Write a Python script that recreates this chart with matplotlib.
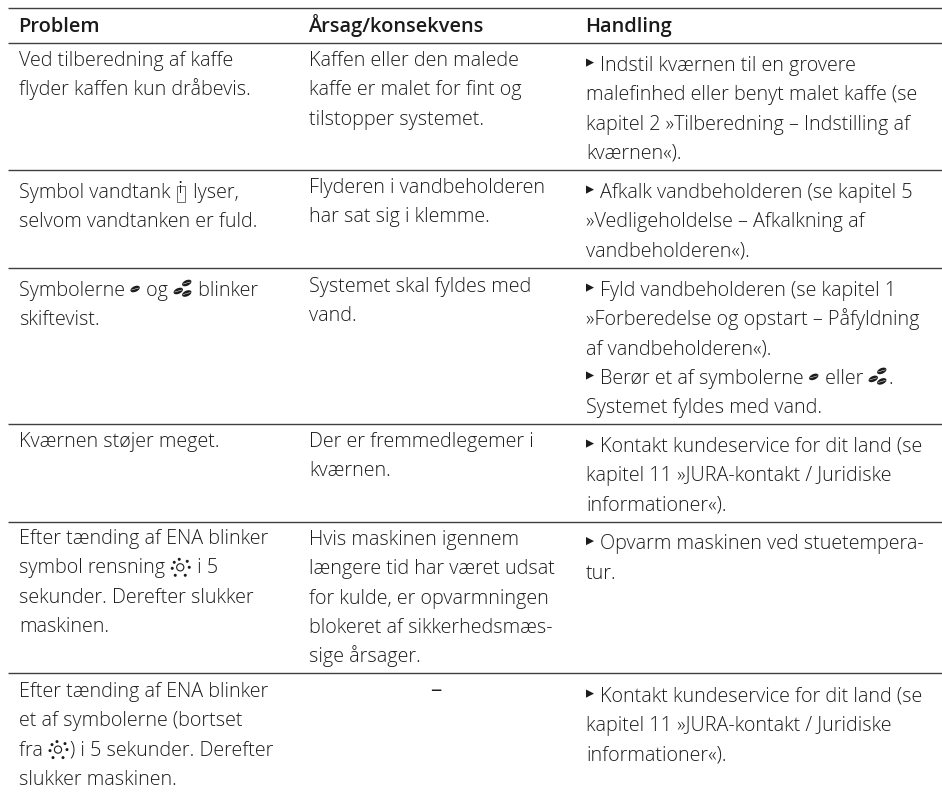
"""Fejlfinding table drawn on a full-figure pixel axes."""
import matplotlib
matplotlib.use("Agg")
import matplotlib.pyplot as plt
from matplotlib.patches import Ellipse, Circle, Rectangle, Polygon

TEXT_COLOR = "#1c1c1c"
LINE_COLOR = "#3f3f3f"
FONT = ["Open Sans", "DejaVu Sans"]

headers = ["Problem", "Årsag/konsekvens", "Handling"]
col_x = [19, 309, 586]
rule_y = [8, 43, 170, 267.5, 424, 521.5, 673]

# [bean], [beans], [tank], [clean] and [arrow] mark inline symbols
col1_lines = [
    ["Ved tilberedning af kaffe", "flyder kaffen kun dråbevis."],
    ["Symbol vandtank [tank] lyser,", "selvom vandtanken er fuld."],
    ["Symbolerne [bean] og [beans] blinker", "skiftevist."],
    ["Kværnen støjer meget."],
    ["Efter tænding af ENA blinker", "symbol rensning [clean] i 5",
     "sekunder. Derefter slukker", "maskinen."],
    ["Efter tænding af ENA blinker", "et af symbolerne (bortset",
     "fra [clean]) i 5 sekunder. Derefter", "slukker maskinen."],
]
col2_lines = [
    ["Kaffen eller den malede", "kaffe er malet for fint og", "tilstopper systemet."],
    ["Flyderen i vandbeholderen", "har sat sig i klemme."],
    ["Systemet skal fyldes med", "vand."],
    ["Der er fremmedlegemer i", "kværnen."],
    ["Hvis maskinen igennem", "længere tid har været udsat", "for kulde, er opvarmningen",
     "blokeret af sikkerhedsmæs-", "sige årsager."],
    [],
]
col3_lines = [
    ["[arrow]Indstil kværnen til en grovere", "malefinhed eller benyt malet kaffe (se",
     "kapitel 2 »Tilberedning – Indstilling af", "kværnen«)."],
    ["[arrow]Afkalk vandbeholderen (se kapitel 5", "»Vedligeholdelse – Afkalkning af",
     "vandbeholderen«)."],
    ["[arrow]Fyld vandbeholderen (se kapitel 1", "»Forberedelse og opstart – Påfyldning",
     "af vandbeholderen«).", "[arrow]Berør et af symbolerne [bean] eller [beans].",
     "Systemet fyldes med vand."],
    ["[arrow]Kontakt kundeservice for dit land (se", "kapitel 11 »JURA-kontakt / Juridiske",
     "informationer«)."],
    ["[arrow]Opvarm maskinen ved stuetempera-", "tur."],
    ["[arrow]Kontakt kundeservice for dit land (se", "kapitel 11 »JURA-kontakt / Juridiske",
     "informationer«)."],
]
dash_label = "–"

# first baseline of each row per column
col1_base = [66, 198, 296, 447, 544, 697]
col2_base = [66, 193, 292, 447, 545, 697]
col3_base = [71, 198, 296, 452, 549.5, 702]
line_step = 29.3
FS = 14.2

fig = plt.figure(figsize=(9.42, 7.92), dpi=100)
ax = fig.add_axes([0, 0, 1, 1])
ax.set_xlim(0, 942)
ax.set_ylim(792, 0)
ax.axis("off")
renderer = fig.canvas.get_renderer()


def put(x, y, s):
    t = ax.text(x, y, s, fontsize=FS, family=FONT, color=TEXT_COLOR,
                fontweight="light", va="baseline", ha="left")
    return t.get_window_extent(renderer).x1


def bean(cx, cy):
    ax.add_patch(Ellipse((cx, cy), 10, 5.6, angle=-25, color=TEXT_COLOR, lw=0))
    ax.plot([cx - 3.5, cx + 3.5], [cy + 1, cy - 1], color="white", lw=0.35)


def draw_icon(name, x, y):
    if name == "bean":
        bean(x + 5, y - 7)
        return x + 11
    if name == "beans":
        bean(x + 5, y - 5)
        bean(x + 13.5, y - 13)
        bean(x + 13.5, y - 2.5)
        return x + 20
    if name == "tank":
        ax.add_patch(Rectangle((x + 1, y - 12), 8, 16, fill=False, ec="#555555", lw=0.6))
        ax.add_patch(Circle((x + 5, y - 16), 1, color=TEXT_COLOR, lw=0))
        ax.add_patch(Rectangle((x + 4.3, y - 13), 1.4, 8, color=TEXT_COLOR, lw=0))
        return x + 12
    if name == "clean":
        ax.add_patch(Circle((x + 10, y - 6), 3.6, fill=False, ec=TEXT_COLOR, lw=0.8))
        for dx, dy in [(-1, -8), (7, -6), (9, 0), (5, 8), (-5, 8), (-8, 1), (-6, -5)]:
            ax.add_patch(Circle((x + 10 + dx, y - 6 + dy), 1.5, color=TEXT_COLOR, lw=0))
        return x + 22
    if name == "arrow":
        ax.add_patch(Polygon([(x, y - 12.5), (x + 8, y - 8.4), (x, y - 4.3)], color=TEXT_COLOR, lw=0))
        return x + 14
    return x


def draw_line(x, y, line):
    parts = line.replace("]", "[").split("[")
    for i, part in enumerate(parts):
        if i % 2 == 1:
            x = draw_icon(part, x, y)
        elif part:
            x = put(x, y, part)


for ry in rule_y:
    ax.plot([8, 942], [ry, ry], color=LINE_COLOR, lw=1.0, solid_capstyle="butt")

for x, h in zip(col_x, headers):
    ax.text(x - 1, 32, h, fontsize=14.4, family=FONT, color="#1a1a1a", fontweight="semibold", va="baseline")

for cx, lines, bases in [(col_x[0], col1_lines, col1_base),
                         (col_x[1], col2_lines, col2_base),
                         (col_x[2], col3_lines, col3_base)]:
    for row, base in zip(lines, bases):
        for i, line in enumerate(row):
            draw_line(cx, base + i * line_step, line)

ax.text(436, 696, dash_label, fontsize=FS + 2, family=FONT, color=TEXT_COLOR, ha="center", va="baseline")

fig.savefig("out.png", dpi=100)
